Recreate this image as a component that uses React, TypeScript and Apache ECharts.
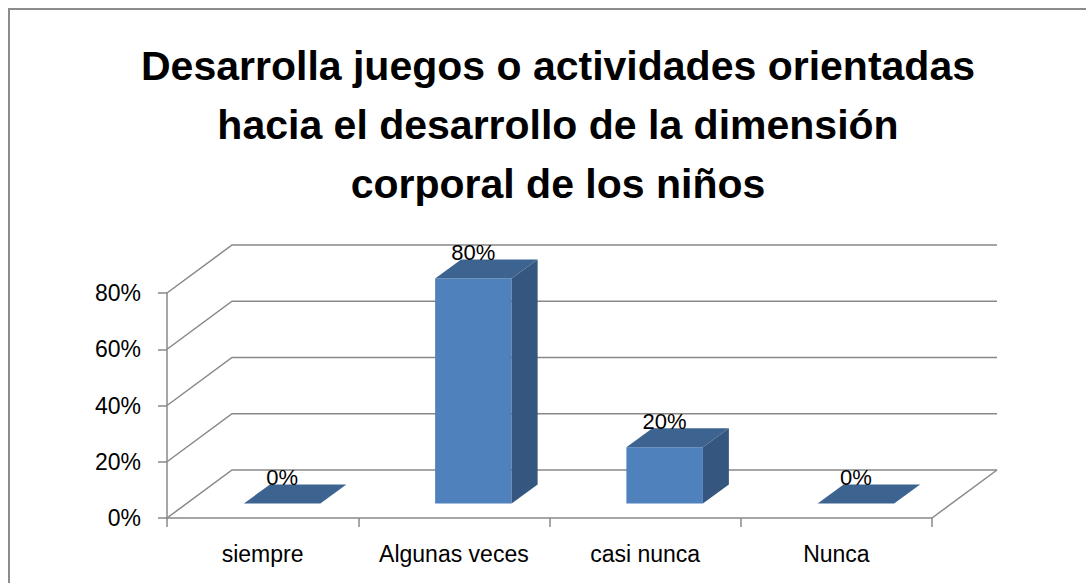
import React, { useEffect, useRef } from "react";
import * as echarts from "echarts";

const titleLines = [
  "Desarrolla juegos o actividades orientadas",
  "hacia el desarrollo de la dimensión",
  "corporal de los niños",
];
const categories = ["siempre", "Algunas veces", "casi nunca", "Nunca"];
const values = [0, 0.8, 0.2, 0];
const gridValues = [0, 0.2, 0.4, 0.6, 0.8];

const DX = 65;
const DY = -48;
const D1 = 0.3;
const D2 = 0.7;
const FONT = "'Liberation Sans', Arial, sans-serif";
const GRAY = "#888888";

export default function App() {
  const ref = useRef<HTMLDivElement>(null);
  useEffect(() => {
    if (!ref.current) return;
    const chart = echarts.init(ref.current, null, { renderer: "svg" });
    const option: any = {
      animation: false,
      backgroundColor: "#ffffff",
      title: {
        text: titleLines.join("\n"),
        left: 553,
        top: 31,
        textAlign: "center",
        textStyle: {
          fontFamily: FONT,
          fontSize: 41,
          fontWeight: "bold",
          color: "#000",
          lineHeight: 59,
        },
      },
      graphic: [
        {
          type: "rect",
          shape: { x: 9, y: 9, width: 1200, height: 700 },
          style: { fill: "none", stroke: "#8c8c8c", lineWidth: 2 },
          silent: true,
        },
      ],
      grid: { left: 167, top: 293, width: 765, height: 225 },
      xAxis: {
        type: "category",
        data: categories,
        boundaryGap: true,
        axisLine: { show: true, lineStyle: { color: GRAY, width: 1.5 } },
        axisTick: { show: true, interval: 0, length: 9, lineStyle: { color: GRAY, width: 1.5 } },
        axisLabel: { interval: 0, color: "#000", fontFamily: FONT, fontSize: 23, margin: 24 },
        splitLine: { show: false },
      },
      yAxis: {
        type: "value",
        min: 0,
        max: 0.8,
        interval: 0.2,
        axisLine: { show: true, lineStyle: { color: GRAY, width: 1.5 } },
        axisTick: { show: true, length: 9, lineStyle: { color: GRAY, width: 1.5 } },
        axisLabel: {
          color: "#000",
          fontFamily: FONT,
          fontSize: 23,
          margin: 26,
          padding: [5, 0, 0, 0],
          formatter: (v: number) => Math.round(v * 100) + "%",
        },
        splitLine: { show: false },
      },
      series: [
        {
          type: "custom",
          name: "wall",
          silent: true,
          data: gridValues.map((v) => [0, v]),
          renderItem: (params: any, api: any) => {
            const v = api.value(1);
            const band = api.size([1, 0])[0];
            const p0 = api.coord([0, v]);
            const pEnd = api.coord([categories.length - 1, v]);
            const xl = p0[0] - band / 2;
            const xr = pEnd[0] + band / 2;
            const y = p0[1];
            const children: any[] = [
              {
                type: "polyline",
                shape: { points: [[xl, y], [xl + DX, y + DY], [xr + DX, y + DY]] },
                style: { stroke: GRAY, lineWidth: 1.5, fill: "none" },
              },
            ];
            if (v === 0) {
              children.push({
                type: "line",
                shape: { x1: xr, y1: y, x2: xr + DX, y2: y + DY },
                style: { stroke: GRAY, lineWidth: 1.5 },
              });
            }
            return { type: "group", children };
          },
          z: 1,
        },
        {
          type: "custom",
          name: "bars",
          data: values.map((v, i) => [i, v]),
          renderItem: (params: any, api: any) => {
            const idx = api.value(0);
            const v = api.value(1);
            const band = api.size([1, 0])[0];
            const top = api.coord([idx, v]);
            const base = api.coord([idx, 0]);
            const w = band * 0.4;
            const x0 = top[0] - w / 2 + D1 * DX;
            const x1 = x0 + w;
            const yt = top[1] + D1 * DY;
            const yb = base[1] + D1 * DY;
            const ox = (D2 - D1) * DX;
            const oy = (D2 - D1) * DY;
            const children: any[] = [];
            if (v > 0) {
              children.push({
                type: "rect",
                shape: { x: x0, y: yt, width: w, height: yb - yt },
                style: { fill: "#4F81BD" },
              });
              children.push({
                type: "polygon",
                shape: { points: [[x1, yt], [x1 + ox, yt + oy], [x1 + ox, yb + oy], [x1, yb]] },
                style: { fill: "#34567F" },
              });
            }
            children.push({
              type: "polygon",
              shape: { points: [[x0, yt], [x1, yt], [x1 + ox, yt + oy], [x0 + ox, yt + oy]] },
              style: { fill: "#3D6491" },
            });
            children.push({
              type: "text",
              style: {
                x: top[0] + D1 * DX,
                y: top[1] + D2 * DY - 7,
                text: Math.round(v * 100) + "%",
                fill: "#000",
                fontFamily: FONT,
                fontSize: 22,
                align: "center",
                verticalAlign: "middle",
              },
            });
            return { type: "group", children };
          },
          z: 2,
        },
      ],
    };
    chart.setOption(option);
    return () => chart.dispose();
  }, []);
  return (
    <div
      ref={ref}
      style={{ position: "fixed", left: 0, top: 0, width: 1086, height: 583 }}
    />
  );
}
